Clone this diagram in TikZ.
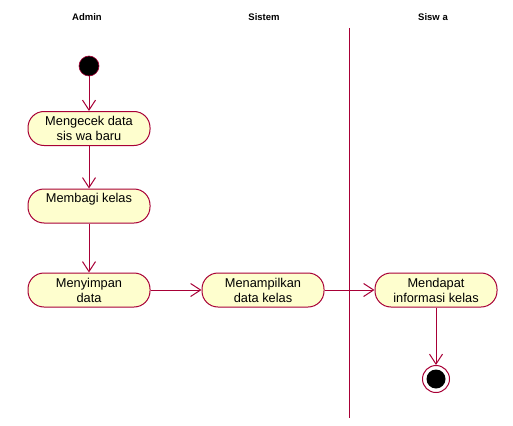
\documentclass[tikz,border=0pt]{standalone}
\usepackage{fontspec}
\setmainfont{Liberation Sans}
\usetikzlibrary{arrows.meta}
\definecolor{umlred}{HTML}{A80036}
\definecolor{umlfill}{HTML}{FEFECE}
\tikzset{
  act/.style={draw=umlred, fill=umlfill, line width=1pt, rounded corners=16pt,
    minimum width=122pt, minimum height=34pt, inner sep=1pt, align=center,
    font=\fontsize{12.8}{15}\selectfont},
  flow/.style={draw=umlred, line width=1pt, -{Straight Barb[length=10pt,width=13pt]}},
  lane/.style={font=\bfseries\fontsize{9.5}{11}\selectfont},
}
\begin{document}
\begin{tikzpicture}[x=1pt,y=-1pt]
\useasboundingbox (0,0) rectangle (513,425);
\node[lane] (h1) at (87,17) {Admin};
\node[lane] (h2) at (264,17) {Sistem};
\node[lane] (h3) at (433,17) {Sisw a};
\coordinate (lt) at (349,28);
\coordinate (lb) at (349,418);
\draw[umlred, line width=1pt] (lt) -- (lb);
\node[circle, fill=black, draw=umlred, line width=0.6pt, minimum size=20pt, inner sep=0pt] (start) at (89,66) {};
\node[act] (n1) at (89,128.5) {Mengecek data\\sis wa baru};
\node[act] (n2) at (89,206) {Membagi kelas\\[-4pt]\strut};
\node[act] (n3) at (89,290) {Menyimpan\\data};
\node[act] (n4) at (263,290) {Menampilkan\\data kelas};
\node[act] (n5) at (436,290) {Mendapat\\informasi kelas};
\node[circle, draw=umlred, fill=white, line width=1pt, minimum size=27pt, inner sep=0pt] (end) at (436,379) {};
\node[circle, fill=black, minimum size=19pt, inner sep=0pt] (endin) at (end) {};
\draw[flow] (start) -- (n1);
\draw[flow] (n1) -- (n2);
\draw[flow] (n2) -- (n3);
\draw[flow] (n3) -- (n4);
\draw[flow] (n4) -- (n5);
\draw[flow] (n5) -- (end);
\end{tikzpicture}
\end{document}
